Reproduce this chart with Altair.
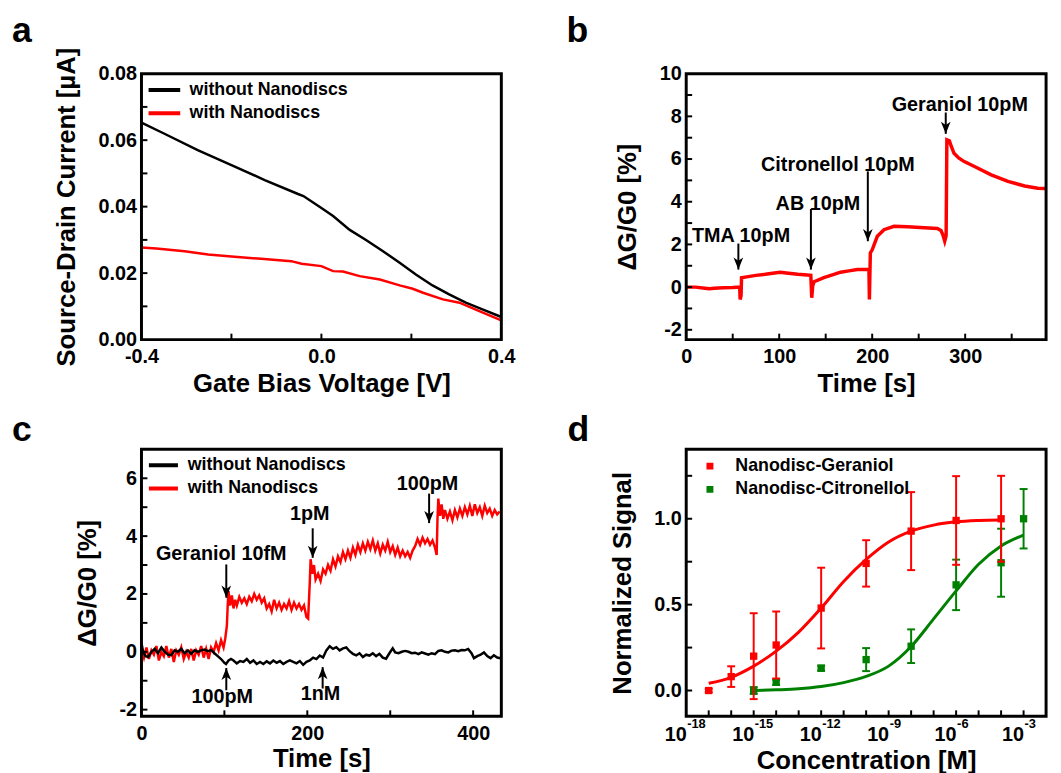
import altair as alt
import pandas as pd

FONT = "Liberation Sans"
RED = "#ff0000"
GREEN = "#008000"
W = 364
H_TOP = 269
H_BOT = 270

# ---------------- panel a : transfer curves ----------------
a_series = ["without Nanodiscs", "with Nanodiscs"]
a_bias_without = [-0.40, -0.35, -0.275, -0.20, -0.126, -0.052, -0.04, 0.0, 0.026, 0.063,
                  0.10, 0.137, 0.174, 0.21, 0.247, 0.284, 0.321, 0.358, 0.40]
a_cur_without = [0.0653, 0.0620, 0.0570, 0.0525, 0.0480, 0.0438, 0.0432, 0.0396, 0.0372, 0.0330,
                 0.0299, 0.0266, 0.0231, 0.0196, 0.0163, 0.0136, 0.0111, 0.0091, 0.0068]
a_bias_with = [-0.40, -0.367, -0.304, -0.252, -0.193, -0.134, -0.067, -0.044, 0.0, 0.026,
               0.048, 0.085, 0.13, 0.174, 0.203, 0.226, 0.27, 0.307, 0.351, 0.40]
a_cur_with = [0.0277, 0.0274, 0.0266, 0.0256, 0.0249, 0.0243, 0.0236, 0.0228, 0.0221, 0.0206,
              0.0205, 0.0191, 0.0181, 0.0163, 0.0153, 0.0141, 0.0121, 0.0111, 0.0086, 0.0058]

# ---------------- panel b : selectivity trace ----------------
b_time = [0, 10, 20, 25, 30, 40, 50, 57.5, 58, 59,
          59.5, 65, 75, 85, 95, 101, 110, 120, 130, 134,
          135, 136, 137.5, 148, 158, 166, 175, 184, 195, 196.5,
          197, 198, 200, 205.5, 212.7, 223.5, 238, 256, 270, 274,
          276, 278, 279.5, 280.3, 283, 285, 288, 293, 299, 310,
          328, 346, 364, 378, 386]
b_signal = [0.0, 0.0, -0.05, -0.08, -0.05, -0.03, -0.02, 0.0, -0.58, -0.4,
            0.44, 0.48, 0.55, 0.6, 0.66, 0.7, 0.65, 0.6, 0.57, 0.55,
            -0.5, 0.05, 0.25, 0.44, 0.58, 0.7, 0.76, 0.82, 0.82, 0.8,
            -0.58, 1.6, 1.75, 2.38, 2.69, 2.85, 2.83, 2.78, 2.75, 2.65,
            2.45, 2.15, 2.4, 6.9, 6.85, 6.6, 6.27, 6.05, 5.88, 5.65,
            5.26, 4.95, 4.74, 4.63, 4.62]
b_note_text = ["TMA 10pM", "AB 10pM", "Citronellol 10pM", "Geraniol 10pM"]
b_note_time = [59, 141.6, 163.2, 294.2]
b_note_level = [2.1, 3.63, 5.42, 8.27]
b_arrow_time = [56.1, 134.1, 195.3, 279.1]
b_arrow_from = [2.04, 3.66, 5.42, 8.18]
b_arrow_to = [0.82, 0.82, 2.15, 7.18]

# ---------------- panel c : dose steps ----------------
c_time_with = [0, 3, 6, 9, 12, 15, 18, 21, 24, 27,
               30, 33, 36, 39, 42, 45, 48, 51, 54, 57,
               60, 63, 66, 69, 72, 75, 78, 81, 84, 87,
               90, 93, 96, 99, 101, 103, 104, 105, 107, 109,
               111, 113, 115, 118, 121, 124, 127, 130, 133, 136,
               139, 142, 145, 148, 151, 154, 157, 160, 163, 166,
               169, 172, 175, 178, 181, 184, 187, 190, 193, 196,
               199, 201, 203, 204, 206, 208, 210, 213, 216, 219,
               222, 225, 228, 231, 234, 237, 240, 243, 246, 249,
               252, 255, 258, 261, 264, 267, 270, 273, 276, 279,
               282, 285, 288, 291, 294, 297, 300, 303, 306, 309,
               312, 315, 318, 321, 324, 327, 330, 333, 336, 339,
               342, 345, 348, 351, 354, 356, 357, 358, 360, 362,
               364, 366, 369, 372, 375, 378, 381, 384, 387, 390,
               393, 396, 399, 402, 405, 408, 411, 414, 417, 420,
               423, 426, 429, 432]
c_sig_with = [0.1, -0.2, 0.15, -0.25, 0.05, -0.1, 0.2, -0.3, 0.0, -0.15,
              0.2, -0.2, 0.1, -0.35, 0.05, -0.1, 0.15, -0.25, 0.0, -0.2,
              0.1, -0.3, 0.05, -0.1, 0.2, -0.2, 0.1, -0.25, 0.15, 0.0,
              0.3, 0.05, 0.4, 0.15, 0.45, 0.9, 1.6, 2.1, 1.6, 1.95,
              1.5, 1.8, 1.6, 1.9, 1.7, 1.85, 1.65, 1.9, 1.75, 2.0,
              1.8, 1.95, 1.7, 1.85, 1.5, 1.65, 1.4, 1.8, 1.5, 1.7,
              1.45, 1.65, 1.5, 1.75, 1.45, 1.7, 1.5, 1.65, 1.45, 1.6,
              1.2, 1.15, 2.4, 3.2, 2.7, 3.0, 2.5, 2.7, 2.45, 2.85,
              2.7, 3.0, 2.8, 3.2, 2.95, 3.3, 3.1, 3.45, 3.2, 3.5,
              3.25, 3.6, 3.35, 3.7, 3.45, 3.75, 3.5, 3.8, 3.55, 3.85,
              3.5, 3.75, 3.4, 3.7, 3.5, 3.8, 3.45, 3.65, 3.35, 3.6,
              3.3, 3.5, 3.3, 3.45, 3.25, 3.5, 3.65, 3.9, 3.7, 3.95,
              3.75, 3.9, 3.7, 3.85, 3.6, 3.35, 4.6, 5.3, 4.7, 5.1,
              4.6, 4.9, 4.6, 4.85, 4.55, 4.9, 4.65, 4.95, 4.7, 5.0,
              4.75, 5.05, 4.7, 5.1, 4.8, 5.0, 4.7, 5.05, 4.8, 4.95,
              4.7, 4.9, 4.75, 4.85]
c_time_without = [0, 2, 5, 8, 12, 16, 20, 24, 28, 32,
                  36, 40, 44, 48, 52, 56, 60, 64, 68, 72,
                  76, 80, 84, 88, 92, 96, 100, 102, 105, 108,
                  111, 115, 119, 123, 127, 131, 135, 139, 143, 147,
                  151, 155, 159, 163, 167, 171, 175, 179, 183, 187,
                  191, 195, 199, 203, 207, 211, 215, 219, 223, 227,
                  231, 235, 239, 243, 247, 251, 255, 259, 263, 267,
                  271, 275, 279, 283, 287, 291, 295, 299, 303, 306,
                  310, 314, 318, 322, 326, 330, 334, 338, 342, 346,
                  350, 354, 358, 362, 366, 370, 374, 378, 382, 386,
                  390, 394, 398, 401, 405, 409, 413, 417, 421, 425,
                  429, 433]
c_sig_without = [0.3, 0.0, -0.15, -0.18, 0.0, 0.1, -0.05, 0.15, 0.0, -0.1,
                 -0.12, 0.05, 0.0, 0.1, -0.05, 0.05, -0.07, 0.05, 0.0, 0.05,
                 0.08, 0.02, 0.06, -0.05, -0.15, -0.25, -0.38, -0.42, -0.3, -0.25,
                 -0.3, -0.4, -0.32, -0.35, -0.25, -0.38, -0.3, -0.42, -0.35, -0.42,
                 -0.33, -0.4, -0.3, -0.38, -0.32, -0.42, -0.35, -0.3, -0.35, -0.4,
                 -0.32, -0.45, -0.35, -0.3, -0.2, -0.25, -0.13, -0.2, 0.05, 0.19,
                 0.1, 0.16, 0.05, 0.12, 0.15, 0.02, -0.07, -0.12, -0.05, -0.18,
                 -0.1, -0.13, -0.05, -0.15, -0.07, -0.2, -0.24, -0.05, 0.12, -0.02,
                 -0.05, 0.0, 0.03, 0.0, -0.05, -0.03, -0.08, -0.02, -0.06, -0.1,
                 -0.05, -0.08, 0.03, 0.05, 0.0, -0.02, 0.04, 0.05, 0.02, 0.06,
                 0.05, 0.1, -0.05, -0.22, -0.15, -0.1, -0.02, -0.15, -0.22, -0.12,
                 -0.2, -0.22]
c_note_text = ["Geraniol 10fM", "1pM", "100pM", "100pM", "1nM"]
c_note_time = [96.2, 203, 345, 97.5, 215.8]
c_note_level = [3.19, 4.54, 5.59, -1.78, -1.67]
c_down_time = [102.3, 206.5, 346.9]
c_down_from = [3.02, 4.27, 5.47]
c_down_to = [1.87, 3.25, 4.45]
c_up_time = [102.3, 218.5]
c_up_from = [-1.33, -1.27]
c_up_to = [-0.56, -0.53]

# ---------------- panel d : dose response ----------------
d_series = ["Nanodisc-Geraniol", "Nanodisc-Citronellol"]
d_ger_exp = [-17, -16, -15, -14, -12, -10, -8, -6, -4]
d_ger_mean = [0.0, 0.081, 0.20, 0.265, 0.48, 0.74, 0.928, 0.99, 1.0]
d_ger_err = [0.01, 0.06, 0.25, 0.195, 0.235, 0.135, 0.227, 0.258, 0.25]
d_cit_exp = [-15, -14, -12, -10, -8, -6, -4, -3]
d_cit_mean = [0.0, 0.048, 0.13, 0.18, 0.258, 0.615, 0.744, 1.0]
d_cit_err = [0.02, 0.015, 0.015, 0.067, 0.098, 0.147, 0.198, 0.173]
d_ger_fit_exp = [-17, -16, -15, -14, -13, -12, -11, -10, -9, -8, -7, -6, -5, -4]
d_ger_fit = [0.042, 0.077, 0.142, 0.229, 0.34, 0.48, 0.635, 0.763, 0.865, 0.928, 0.963, 0.982, 0.99, 0.993]
d_cit_fit_exp = [-15, -14, -13, -12, -11, -10, -9, -8, -7, -6, -5, -4, -3]
d_cit_fit = [0.0, 0.004, 0.01, 0.023, 0.046, 0.082, 0.142, 0.256, 0.417, 0.58, 0.735, 0.842, 0.905]
d_label_exp = [-18, -15, -12, -9, -6, -3]


def lab(fmt):
    return (f"datum.value < 0 ? '-' + format(-datum.value, '{fmt}') "
            f": format(datum.value, '{fmt}')")


def axis(title, values, label_expr, lp, tp, **extra):
    kw = dict(title=title, values=values, labelExpr=label_expr, grid=False,
              domain=False, ticks=False, labelFont=FONT, labelFontSize=20,
              labelFontWeight="bold", labelColor="black", titleFont=FONT,
              titleFontSize=26, titleFontWeight="bold", titleColor="black",
              labelPadding=lp, titlePadding=tp, labelFlush=False,
              labelOverlap=False)
    kw.update(extra)
    return alt.Axis(**kw)


def x_ticks(vals, xs, xa, h, length=6):
    return alt.Chart(pd.DataFrame({"x": vals})).mark_rule(
        color="black", strokeWidth=2).encode(
        x=alt.X("x:Q", scale=xs, axis=xa), y=alt.value(h), y2=alt.value(h - length))


def y_ticks(vals, ys, ya, length=6):
    return alt.Chart(pd.DataFrame({"y": vals})).mark_rule(
        color="black", strokeWidth=2).encode(
        y=alt.Y("y:Q", scale=ys, axis=ya), x=alt.value(0), x2=alt.value(length))


def frame(h):
    return alt.Chart(pd.DataFrame({"f": [0]})).mark_rect(
        fill="transparent", stroke="black", strokeWidth=3).encode(
        x=alt.value(0), x2=alt.value(W), y=alt.value(0), y2=alt.value(h))


ARROW_DOWN = "M0,0L-0.8,-2L0,-1.45L0.8,-2Z"
ARROW_UP = "M0,0L-0.8,2L0,1.45L0.8,2Z"


def arrows(xv, y_from, y_to, xs, ys, xa, ya, shape):
    shaft_df = pd.DataFrame({"x": xv, "y": y_from, "y2": y_to})
    head_df = pd.DataFrame({"x": xv, "y": y_to})
    shaft = alt.Chart(shaft_df).mark_rule(color="black", strokeWidth=2).encode(
        x=alt.X("x:Q", scale=xs, axis=xa), y=alt.Y("y:Q", scale=ys, axis=ya), y2="y2:Q")
    head = alt.Chart(head_df).mark_point(
        shape=shape, filled=True, color="black", size=150, opacity=1).encode(
        x=alt.X("x:Q", scale=xs, axis=xa), y=alt.Y("y:Q", scale=ys, axis=ya))
    return [shaft, head]


def notes(texts, xv, yv, xs, ys, xa, ya):
    df = pd.DataFrame({"x": xv, "y": yv, "label": texts})
    return alt.Chart(df).mark_text(
        font=FONT, fontSize=20, fontWeight="bold", align="center",
        baseline="alphabetic", color="black").encode(
        x=alt.X("x:Q", scale=xs, axis=xa), y=alt.Y("y:Q", scale=ys, axis=ya),
        text="label:N")


def letter(ch, dx, dy):
    return alt.Chart(pd.DataFrame({"label": [ch]})).mark_text(
        font=FONT, fontSize=36, fontWeight="bold", align="left",
        baseline="top", color="black").encode(
        x=alt.value(dx), y=alt.value(dy), text="label:N")


def line_legend(lx, ly, size):
    return alt.Legend(title=None, orient="none", legendX=lx, legendY=ly,
                      symbolType="stroke", symbolSize=size, symbolStrokeWidth=4,
                      clipHeight=18, rowPadding=5.5, labelOffset=7.5, labelLimit=400,
                      labelFont=FONT, labelFontSize=18, labelFontWeight="bold",
                      labelColor="black")


# ---------------- build panel a ----------------
xs_a = alt.Scale(domain=[-0.4, 0.4], nice=False, zero=False)
ys_a = alt.Scale(domain=[0, 0.08], nice=False, zero=False)
xa_a = axis("Gate Bias Voltage [V]", [-0.4, 0.0, 0.4], lab(".1f"), 7, 4)
ya_a = axis("Source-Drain Current [µA]", [0, 0.02, 0.04, 0.06, 0.08], lab(".2f"), 5, 19)
col_a = alt.Scale(domain=a_series, range=["black", RED])
leg_a = line_legend(5.2, 7.5, 1024)


def a_line(xv, yv, name):
    df = pd.DataFrame({"x": xv, "y": yv, "s": name})
    return alt.Chart(df).mark_line(strokeWidth=2.5).encode(
        x=alt.X("x:Q", scale=xs_a, axis=xa_a), y=alt.Y("y:Q", scale=ys_a, axis=ya_a),
        color=alt.Color("s:N", scale=col_a, legend=leg_a))


pa = alt.layer(
    a_line(a_bias_without, a_cur_without, a_series[0]),
    a_line(a_bias_with, a_cur_with, a_series[1]),
    x_ticks([-0.2, 0.0, 0.2], xs_a, xa_a, H_TOP),
    y_ticks([0.01, 0.02, 0.03, 0.04, 0.05, 0.06, 0.07], ys_a, ya_a),
    frame(H_TOP),
    letter("a", -131, -60),
).properties(width=W, height=H_TOP)

# ---------------- build panel b ----------------
xs_b = alt.Scale(domain=[0, 387], nice=False, zero=False)
ys_b = alt.Scale(domain=[-2.46, 10], nice=False, zero=False)
xa_b = axis("Time [s]", [0, 100, 200, 300], lab("d"), 7, 4)
ya_b = axis("ΔG/G0 [%]", [-2, 0, 2, 4, 6, 8, 10], lab("d"), 5, 19)
b_line = alt.Chart(pd.DataFrame({"x": b_time, "y": b_signal})).mark_line(
    color=RED, strokeWidth=3.5).encode(
    x=alt.X("x:Q", scale=xs_b, axis=xa_b), y=alt.Y("y:Q", scale=ys_b, axis=ya_b))
pb = alt.layer(
    b_line,
    *arrows(b_arrow_time, b_arrow_from, b_arrow_to, xs_b, ys_b, xa_b, ya_b, ARROW_DOWN),
    notes(b_note_text, b_note_time, b_note_level, xs_b, ys_b, xa_b, ya_b),
    x_ticks([50, 100, 150, 200, 250, 300, 350], xs_b, xa_b, H_TOP),
    y_ticks([-2, -1, 0, 1, 2, 3, 4, 5, 6, 7, 8, 9], ys_b, ya_b),
    frame(H_TOP),
    letter("b", -121, -60),
).properties(width=W, height=H_TOP)

# ---------------- build panel c ----------------
xs_c = alt.Scale(domain=[0, 434], nice=False, zero=False)
ys_c = alt.Scale(domain=[-2.23, 7.0], nice=False, zero=False)
xa_c = axis("Time [s]", [0, 200, 400], lab("d"), 7, 3)
ya_c = axis("ΔG/G0 [%]", [-2, 0, 2, 4, 6], lab("d"), 5, 19)
col_c = alt.Scale(domain=a_series, range=["black", RED])
leg_c = line_legend(5.2, 7, 864)


def c_line(xv, yv, name):
    df = pd.DataFrame({"x": xv, "y": yv, "s": name})
    return alt.Chart(df).mark_line(strokeWidth=2.5).encode(
        x=alt.X("x:Q", scale=xs_c, axis=xa_c), y=alt.Y("y:Q", scale=ys_c, axis=ya_c),
        color=alt.Color("s:N", scale=col_c, legend=leg_c))


pc = alt.layer(
    c_line(c_time_with, c_sig_with, a_series[1]),
    c_line(c_time_without, c_sig_without, a_series[0]),
    *arrows(c_down_time, c_down_from, c_down_to, xs_c, ys_c, xa_c, ya_c, ARROW_DOWN),
    *arrows(c_up_time, c_up_from, c_up_to, xs_c, ys_c, xa_c, ya_c, ARROW_UP),
    notes(c_note_text, c_note_time, c_note_level, xs_c, ys_c, xa_c, ya_c),
    x_ticks([100, 200, 300, 400], xs_c, xa_c, H_BOT),
    y_ticks([-2, -1, 0, 1, 2, 3, 4, 5, 6], ys_c, ya_c),
    frame(H_BOT),
    letter("c", -131, -36),
).properties(width=W, height=H_BOT)

# ---------------- build panel d ----------------
xs_d = alt.Scale(type="log", domain=[1e-18, 1e-2], nice=False)
ys_d = alt.Scale(domain=[-0.15, 1.404], nice=False, zero=False)
xa_d = axis("Concentration [M]", [10.0 ** e for e in d_label_exp], "'10'", 8, 4,
            labelAlign="right")
ya_d = axis("Normalized Signal", [0.0, 0.5, 1.0], lab(".1f"), 5, 19)
col_d = alt.Scale(domain=d_series, range=[RED, GREEN])
leg_d = alt.Legend(title=None, orient="none", legendX=15, legendY=8,
                   symbolType="square", symbolSize=49, clipHeight=18, rowPadding=5.5,
                   labelOffset=16.7, labelLimit=400, labelFont=FONT, labelFontSize=18,
                   labelFontWeight="bold", labelColor="black")
X_d = alt.X("x:Q", scale=xs_d, axis=xa_d)


def d_frame(exps, means, errs, name):
    return pd.DataFrame({
        "x": [10.0 ** e for e in exps],
        "y": means,
        "lo": [m - e for m, e in zip(means, errs)],
        "hi": [m + e for m, e in zip(means, errs)],
        "s": name,
    })


def d_fit(exps, vals, colour):
    df = pd.DataFrame({"x": [10.0 ** e for e in exps], "y": vals})
    return alt.Chart(df).mark_line(color=colour, strokeWidth=3, interpolate="monotone").encode(
        x=X_d, y=alt.Y("y:Q", scale=ys_d, axis=ya_d))


def d_errors(df, colour):
    bar = alt.Chart(df).mark_rule(color=colour, strokeWidth=2).encode(
        x=X_d, y=alt.Y("lo:Q", scale=ys_d, axis=ya_d), y2="hi:Q")
    lo = alt.Chart(df).mark_point(shape="M-1,0L1,0", size=64, strokeWidth=2,
                                  color=colour, opacity=1).encode(
        x=X_d, y=alt.Y("lo:Q", scale=ys_d, axis=ya_d))
    hi = alt.Chart(df).mark_point(shape="M-1,0L1,0", size=64, strokeWidth=2,
                                  color=colour, opacity=1).encode(
        x=X_d, y=alt.Y("hi:Q", scale=ys_d, axis=ya_d))
    return [bar, lo, hi]


def d_points(df):
    return alt.Chart(df).mark_point(shape="square", filled=True, size=55, opacity=1).encode(
        x=X_d, y=alt.Y("y:Q", scale=ys_d, axis=ya_d),
        color=alt.Color("s:N", scale=col_d, legend=leg_d))


ger_df = d_frame(d_ger_exp, d_ger_mean, d_ger_err, d_series[0])
cit_df = d_frame(d_cit_exp, d_cit_mean, d_cit_err, d_series[1])
d_exp = alt.Chart(pd.DataFrame({"x": [10.0 ** e for e in d_label_exp],
                                "label": [str(e) for e in d_label_exp]})).mark_text(
    font=FONT, fontSize=13, fontWeight="bold", align="left", baseline="top",
    color="black", dx=1).encode(x=X_d, y=alt.value(H_BOT + 2), text="label:N")

pd_ = alt.layer(
    d_fit(d_ger_fit_exp, d_ger_fit, RED),
    d_fit(d_cit_fit_exp, d_cit_fit, GREEN),
    *d_errors(cit_df, GREEN),
    d_points(cit_df),
    *d_errors(ger_df, RED),
    d_points(ger_df),
    d_exp,
    x_ticks([10.0 ** e for e in range(-17, -2)], xs_d, xa_d, H_BOT),
    y_ticks([0.0, 0.25, 0.5, 0.75, 1.0, 1.25], ys_d, ya_d),
    frame(H_BOT),
    letter("d", -120, -36),
).properties(width=W, height=H_BOT)

chart = alt.concat(
    pa, pb, pc, pd_, columns=2, spacing={"row": 111, "column": 187}, bounds="flush"
).resolve_scale(color="independent").properties(
    padding={"left": 4, "top": 1, "right": 0, "bottom": 0}
).configure(font=FONT).configure_view(strokeWidth=0)

chart.save("out.html", embed_options={"renderer": "svg", "actions": False})
